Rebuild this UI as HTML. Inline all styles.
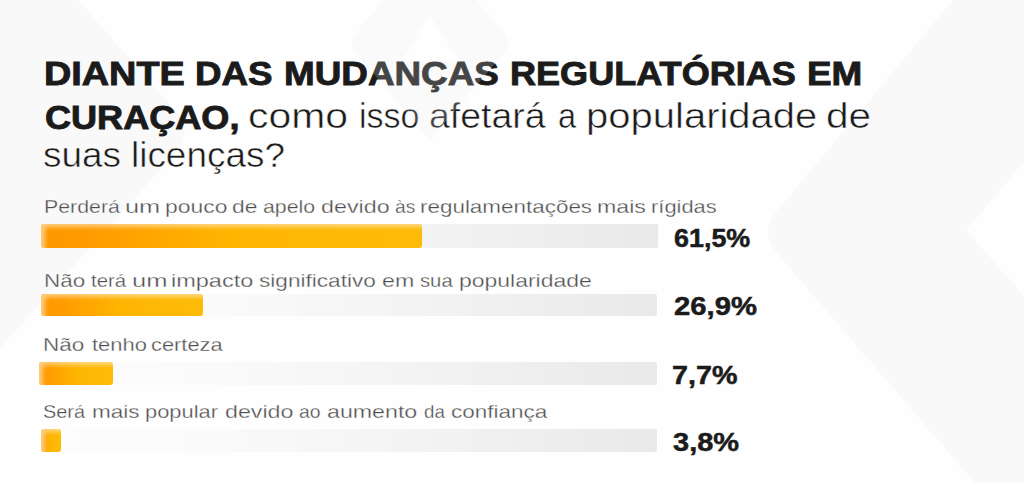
<!DOCTYPE html>
<html lang="pt-BR">
<head>
<meta charset="utf-8">
<title>Pesquisa: mudanças regulatórias em Curaçao</title>
<style>
html,body{margin:0;padding:0;}
body{width:1024px;height:483px;overflow:hidden;background:#fefefe;font-family:"Liberation Sans", Arial, sans-serif;}
.stage{position:relative;width:1024px;height:483px;overflow:hidden;background:#fefefe;}
.bg{position:absolute;left:0;top:0;width:1024px;height:483px;}
h1,p{margin:0;font-weight:inherit;font-size:inherit;}
.ln{position:absolute;left:0;top:0;margin:0;white-space:nowrap;}
.ln span{position:absolute;display:block;white-space:nowrap;transform-origin:0 0;font-weight:inherit;}
.t-b{font-size:33.3px;font-weight:700;color:#1b1b1b;-webkit-text-stroke:0.9px #1b1b1b;}
.t-r{font-size:34.8px;font-weight:400;color:#1b1b1b;-webkit-text-stroke:0.5px #fefefe;}
.lab{font-size:19px;font-weight:400;color:#4e4e4e;-webkit-text-stroke:0.3px #fefefe;}
.pct{font-size:26.0px;font-weight:700;color:#1b1b1b;-webkit-text-stroke:0.5px #1b1b1b;}
.track{position:absolute;border-radius:2px;background:linear-gradient(90deg,#fdfdfd 0%,#fafafa 30%,#f3f3f3 62%,#e9e9e9 100%);}
.fill{position:absolute;left:0;top:0;height:100%;border-radius:3px;
  background:linear-gradient(90deg,#ff9700 0%,#ff9d00 15%,#ffb400 48%,#fdb905 70%,#fdba07 100%);
  box-shadow:inset 5px 4px 4px -1px rgba(255,236,200,.62);}
</style>
</head>
<body>
<div class="stage">
<svg class="bg" width="1024" height="483" viewBox="0 0 1024 483" aria-hidden="true">
<rect width="1024" height="483" fill="#fefefe"/>
<path d="M0,0 L78,0 L176,112 Q193,132 176,152 L0,348 Z" fill="#f9f9f9"/>
<path d="M953,0 L1024,0 L1024,162 L966,230 L1024,296 L1024,483 L975,483 L776,252 Q760,232 776,212 Z" fill="#f9f9f9"/>
<path d="M430,-54 L504,33 Q512,43 504,53 L430,140 L356,53 Q348,43 356,33 Z" fill="#f9f9f9"/>
<path d="M430,15 L459,61 L401,61 Z" fill="#fefefe"/>
</svg>
<h1 class="ln" id="title"><b class="t-b"><span style="left:44.41px;top:54.61px;line-height:37.2px;transform:scaleX(1.1357)">DIANTE</span> <span style="left:194.82px;top:54.61px;line-height:37.2px;transform:scaleX(1.1033)">DAS</span> <span style="left:284.16px;top:54.61px;line-height:37.2px;transform:scaleX(1.1065)">MUDANÇAS</span> <span style="left:510.40px;top:54.61px;line-height:37.2px;transform:scaleX(1.0833)">REGULATÓRIAS</span> <span style="left:806.81px;top:54.61px;line-height:37.2px;transform:scaleX(1.1075)">EM</span> <span style="left:44.92px;top:98.61px;line-height:37.2px;transform:scaleX(1.0835)">CURAÇAO,</span></b> <span class="t-r" style="position:static;display:inline;transform:none"><span style="left:247.84px;top:97.11px;line-height:38.87px;transform:scaleX(1.1755)">como</span> <span style="left:358.86px;top:97.11px;line-height:38.87px;transform:scaleX(0.9774)">isso</span> <span style="left:429.22px;top:97.11px;line-height:38.87px;transform:scaleX(1.0758)">afetará</span> <span style="left:557.57px;top:97.11px;line-height:38.87px;transform:scaleX(0.9333)">a</span> <span style="left:585.93px;top:97.11px;line-height:38.87px;transform:scaleX(1.1497)">popularidade</span> <span style="left:825.56px;top:97.11px;line-height:38.87px;transform:scaleX(1.1660)">de</span> <span style="left:43.21px;top:135.51px;line-height:38.87px;transform:scaleX(1.0624)">suas</span> <span style="left:130.55px;top:135.51px;line-height:38.87px;transform:scaleX(1.0610)">licenças?</span></span></h1>
<p class="ln lab"><span style="left:43.94px;top:195.56px;line-height:21.22px;transform:scaleX(1.1224)">Perderá</span> <span style="left:125.30px;top:195.56px;line-height:21.22px;transform:scaleX(1.3362)">um</span> <span style="left:164.79px;top:195.56px;line-height:21.22px;transform:scaleX(1.2061)">pouco</span> <span style="left:232.20px;top:195.56px;line-height:21.22px;transform:scaleX(1.2000)">de</span> <span style="left:262.98px;top:195.56px;line-height:21.22px;transform:scaleX(1.1213)">apelo</span> <span style="left:321.07px;top:195.56px;line-height:21.22px;transform:scaleX(1.2259)">devido</span> <span style="left:394.59px;top:195.56px;line-height:21.22px;transform:scaleX(1.0082)">às</span> <span style="left:419.53px;top:195.56px;line-height:21.22px;transform:scaleX(1.1805)">regulamentações</span> <span style="left:597.17px;top:195.56px;line-height:21.22px;transform:scaleX(1.2185)">mais</span> <span style="left:651.47px;top:195.56px;line-height:21.22px;transform:scaleX(1.1525)">rígidas</span></p>
<div class="track" style="left:40.60px;top:224.00px;width:617.20px;height:23.75px;"><div class="fill" style="width:381.90px;"></div></div>
<p class="ln pct"><span style="left:673.92px;top:223.67px;line-height:29.04px;transform:scaleX(1.0345)">61,5%</span></p>
<p class="ln lab"><span style="left:43.83px;top:270.00px;line-height:21.22px;transform:scaleX(1.1814)">Não</span> <span style="left:90.76px;top:270.00px;line-height:21.22px;transform:scaleX(1.0719)">terá</span> <span style="left:131.78px;top:270.00px;line-height:21.22px;transform:scaleX(1.3447)">um</span> <span style="left:171.45px;top:270.00px;line-height:21.22px;transform:scaleX(1.2359)">impacto</span> <span style="left:259.41px;top:270.00px;line-height:21.22px;transform:scaleX(1.1896)">significativo</span> <span style="left:382.08px;top:270.00px;line-height:21.22px;transform:scaleX(1.2208)">em</span> <span style="left:419.70px;top:270.00px;line-height:21.22px;transform:scaleX(1.0655)">sua</span> <span style="left:458.59px;top:270.00px;line-height:21.22px;transform:scaleX(1.2084)">popularidade</span></p>
<div class="track" style="left:40.70px;top:294.20px;width:615.90px;height:21.40px;"><div class="fill" style="width:162.10px;"></div></div>
<p class="ln pct"><span style="left:673.86px;top:292.07px;line-height:29.04px;transform:scaleX(1.1248)">26,9%</span></p>
<p class="ln lab"><span style="left:42.83px;top:333.91px;line-height:21.22px;transform:scaleX(1.1845)">Não</span> <span style="left:91.52px;top:333.91px;line-height:21.22px;transform:scaleX(1.1543)">tenho</span> <span style="left:150.85px;top:333.91px;line-height:21.22px;transform:scaleX(1.1494)">certeza</span></p>
<div class="track" style="left:39.00px;top:361.90px;width:617.60px;height:23.50px;"><div class="fill" style="width:73.75px;"></div></div>
<p class="ln pct"><span style="left:671.87px;top:361.47px;line-height:29.04px;transform:scaleX(1.1034)">7,7%</span></p>
<p class="ln lab"><span style="left:43.49px;top:400.81px;line-height:21.22px;transform:scaleX(1.0477)">Será</span> <span style="left:92.42px;top:400.81px;line-height:21.22px;transform:scaleX(1.1868)">mais</span> <span style="left:145.17px;top:400.81px;line-height:21.22px;transform:scaleX(1.1528)">popular</span> <span style="left:224.78px;top:400.81px;line-height:21.22px;transform:scaleX(1.2222)">devido</span> <span style="left:299.18px;top:400.81px;line-height:21.22px;transform:scaleX(1.0182)">ao</span> <span style="left:326.58px;top:400.81px;line-height:21.22px;transform:scaleX(1.2208)">aumento</span> <span style="left:423.51px;top:400.81px;line-height:21.22px;transform:scaleX(0.9850)">da</span> <span style="left:451.21px;top:400.81px;line-height:21.22px;transform:scaleX(1.1850)">confiança</span></p>
<div class="track" style="left:40.60px;top:428.90px;width:616.00px;height:23.40px;"><div class="fill" style="width:20.00px;"></div></div>
<p class="ln pct"><span style="left:673.47px;top:428.37px;line-height:29.04px;transform:scaleX(1.1154)">3,8%</span></p>
<svg class="bg" width="1024" height="483" viewBox="0 0 1024 483" aria-hidden="true" style="pointer-events:none"><path d="M430,-54 L504,33 Q512,43 504,53 L430,140 L356,53 Q348,43 356,33 Z" fill="#ffffff" fill-opacity="0.19"/></svg>
</div>
</body>
</html>
